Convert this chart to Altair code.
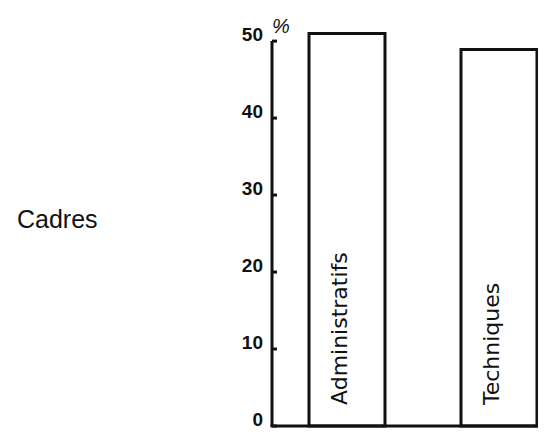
import altair as alt
import pandas as pd

categories = ["Administratifs", "Techniques"]
values = [51, 48.9]
y_ticks = [0, 10, 20, 30, 40, 50]
side_label = ["Cadres"]
unit_label = ["%"]

df = pd.DataFrame({"cat": categories, "val": values})
ticks_df = pd.DataFrame({"t": y_ticks})
side_df = pd.DataFrame({"t": side_label})
unit_df = pd.DataFrame({"t": unit_label})

W, H = 265, 408
INK = "#111111"

yscale = alt.Scale(domain=[0, 53], nice=False, zero=True)
xscale = alt.Scale(domain=categories, paddingInner=0.5, paddingOuter=0.1217, align=1)

bars = alt.Chart(df).mark_bar(fill="white", stroke=INK, strokeWidth=3).encode(
    x=alt.X("cat:N", scale=xscale, axis=None),
    y=alt.Y("val:Q", scale=yscale, axis=None),
)

bar_labels = alt.Chart(df).mark_text(
    angle=270, align="left", baseline="middle", font="DejaVu Sans",
    fontSize=22, color=INK,
).encode(
    x=alt.X("cat:N", scale=xscale, bandPosition=0.41, axis=None),
    y=alt.value(387),
    text="cat:N",
)

y_line = alt.Chart(ticks_df).mark_rule(stroke=INK, strokeWidth=3).encode(
    x=alt.value(0),
    y=alt.Y("min(t):Q", axis=None),
    y2="max(t):Q",
)

x_line = alt.Chart(ticks_df).mark_rule(stroke=INK, strokeWidth=3, strokeCap="square").encode(
    x=alt.value(0),
    x2=alt.value(W),
    y=alt.Y("min(t):Q", axis=None),
)

tick_marks = alt.Chart(ticks_df).mark_rule(stroke=INK, strokeWidth=3).encode(
    x=alt.value(0),
    x2=alt.value(5),
    y=alt.Y("t:Q", axis=None),
)

tick_labels = alt.Chart(ticks_df).mark_text(
    align="right", baseline="alphabetic", font="Liberation Sans",
    fontSize=19, fontWeight="bold", color=INK,
).encode(
    x=alt.value(-9),
    y=alt.Y("t:Q", axis=None),
    text="t:Q",
)

unit = alt.Chart(unit_df).mark_text(
    align="left", baseline="alphabetic", font="Liberation Sans",
    fontSize=20, fontStyle="italic", color=INK,
).encode(x=alt.value(0), y=alt.value(15), text="t:N")

side = alt.Chart(side_df).mark_text(
    align="left", baseline="alphabetic", font="Liberation Sans",
    fontSize=25, color=INK,
).encode(x=alt.value(-255), y=alt.value(210), text="t:N")

chart = alt.layer(bars, bar_labels, y_line, x_line, tick_marks, tick_labels, unit, side).properties(
    width=W, height=H,
    autosize=alt.AutoSizeParams(type="none"),
    padding={"left": 264, "top": 10, "right": 1, "bottom": 4},
    background="white",
).configure_view(stroke=None)

chart.save("out.html", embed_options={"renderer": "svg", "actions": False})
